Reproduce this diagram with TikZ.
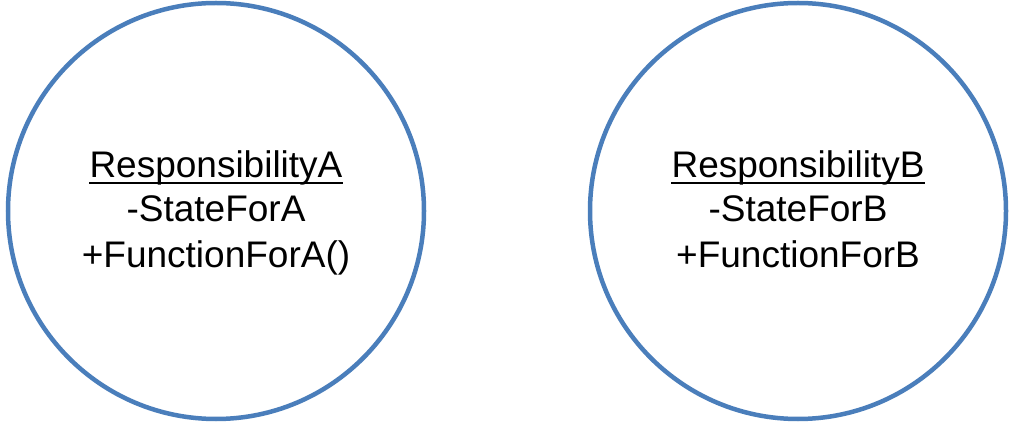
\documentclass[tikz,border=0pt]{standalone}
\usepackage{fontspec}
\setmainfont{Liberation Sans}
\definecolor{ringblue}{RGB}{74,126,187}
\begin{document}
\begin{tikzpicture}[x=1pt,y=1pt,
  ring/.style={draw=ringblue,line width=4.5pt,fill=white},
  txt/.style={inner sep=0pt,anchor=base,font=\fontsize{37}{45}\selectfont}]
\useasboundingbox (0,0) rectangle (1014,431);
\draw[ring] (216,220) circle (208);
\draw[ring] (798,220) circle (208);
\node[txt] (a1) at (216,253) {ResponsibilityA};
\node[txt] (a2) at (216,209) {-StateForA};
\node[txt] (a3) at (216,163) {+FunctionForA()};
\draw[line width=1.5pt] ([yshift=-5pt]a1.base west) -- ([yshift=-5pt]a1.base east);
\node[txt] (b1) at (798,253) {ResponsibilityB};
\node[txt] (b2) at (798,209) {-StateForB};
\node[txt] (b3) at (798,163) {+FunctionForB};
\draw[line width=1.5pt] ([yshift=-5pt]b1.base west) -- ([yshift=-5pt]b1.base east);
\end{tikzpicture}
\end{document}
